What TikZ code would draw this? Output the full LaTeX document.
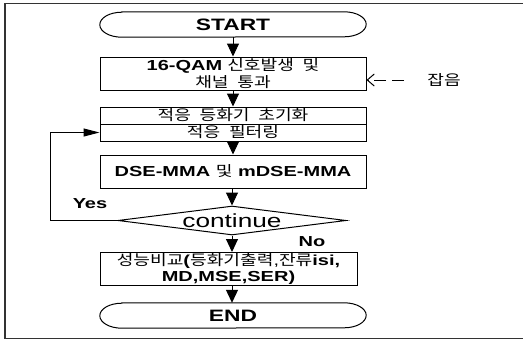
\documentclass[tikz,border=0pt]{standalone}
\usepackage{fontspec}
\setmainfont[FakeStretch=1.38]{Liberation Sans}
\newfontfamily\krfam[FakeStretch=1.25]{Noto Sans CJK KR}
\usetikzlibrary{shapes.geometric,arrows.meta}
\newcommand\KO[1]{{\krfam\mdseries\spaceskip=0.6em\relax #1}}
\begin{document}
\begin{tikzpicture}[x=1pt,y=1pt,
  box/.style={draw, line width=1pt, minimum width=266pt, inner sep=0pt, align=center,
    font=\fontsize{14.5}{16.5}\selectfont},
  term/.style={minimum width=266pt, minimum height=25pt, inner sep=0pt,
    font=\fontsize{16.5}{16.5}\selectfont\bfseries},
  termline/.style={line width=1pt},
  flow/.style={line width=1pt, -{Triangle[length=13pt,width=12pt]}},
  loopflow/.style={line width=1pt, -{Triangle[length=16pt,width=8pt]}},
  noise/.style={line width=1pt, dash pattern=on 12pt off 6pt, -{Straight Barb[length=7pt,width=12pt]}},
  lbl/.style={inner sep=0pt, font=\fontsize{14.5}{14.5}\selectfont\bfseries},
  frame/.style={draw=black!80, line width=1.3pt}
]
\useasboundingbox (0,0) rectangle (523,-341);
\draw[frame] (5,-3.5) rectangle (540,-338.5);

% terminals
\node[term] (start) at (233,-24.5) {START};
\node[term] (endn) at (233,-315.5) {END};
\foreach \n in {start,endn}{
  \draw[termline] ([xshift=22pt]\n.north west) -- ([xshift=-22pt]\n.north east)
    arc[start angle=90, end angle=-90, x radius=22pt, y radius=12.5pt]
    -- ([xshift=22pt]\n.south west)
    arc[start angle=270, end angle=90, x radius=22pt, y radius=12.5pt] -- cycle;
}

% boxes
\node[box, minimum height=33pt] (box1) at (233,-73.5)
  {{\bfseries 16-QAM}\hspace{5pt}\KO{신호발생 및}\\\KO{채널 통과}};
\node[box, minimum height=17pt] (init) at (233,-115.5) {\KO{적응 등화기 초기화}};
\node[box, minimum height=17pt] (filt) at (233,-132.5) {\KO{적응 필터링}};
\node[box, minimum height=33pt, font=\fontsize{14.5}{16.5}\selectfont\bfseries] (box3) at (233,-171.5)
  {DSE-MMA \KO{및} mDSE-MMA};
\node[diamond, draw, line width=1pt, minimum width=228pt, minimum height=29pt,
  inner sep=0pt, shape aspect=7.86, font=\fontsize{19}{19}\selectfont] (cont) at (232,-220.5) {continue};
\node[box, minimum width=257pt, minimum height=33pt] (box4) at (228.5,-269)
  {\KO{성능비교}{\bfseries(}\KO{등화기출력}{,}\KO{잔류}{\bfseries isi,}\\{\bfseries MD,MSE,SER)}};

% labels
\node[lbl] (yes) at (90,-204) {Yes};
\node[lbl] (no) at (312,-242) {No};
\node[inner sep=0pt, font=\fontsize{14.5}{14.5}\selectfont] (jab) at (444,-80) {\KO{잡음}};
\coordinate (nz) at (404,-80);
\coordinate (lp) at (50,-132.5);

% connectors
\draw[flow] (start.south) -- (box1.north);
\draw[flow] (box1.south) -- (init.north);
\draw[flow] (filt.south) -- (box3.north);
\draw[flow] (box3.south -| cont.north) -- (cont.north);
\draw[flow] (cont.south) -- (cont.south |- box4.north);
\draw[flow] (cont.south |- box4.south) -- (cont.south |- endn.north);
\draw[loopflow] (cont.west) -| (lp) -- (filt.west);
\draw[noise] (nz) -- (box1.east |- nz);
\end{tikzpicture}
\end{document}
